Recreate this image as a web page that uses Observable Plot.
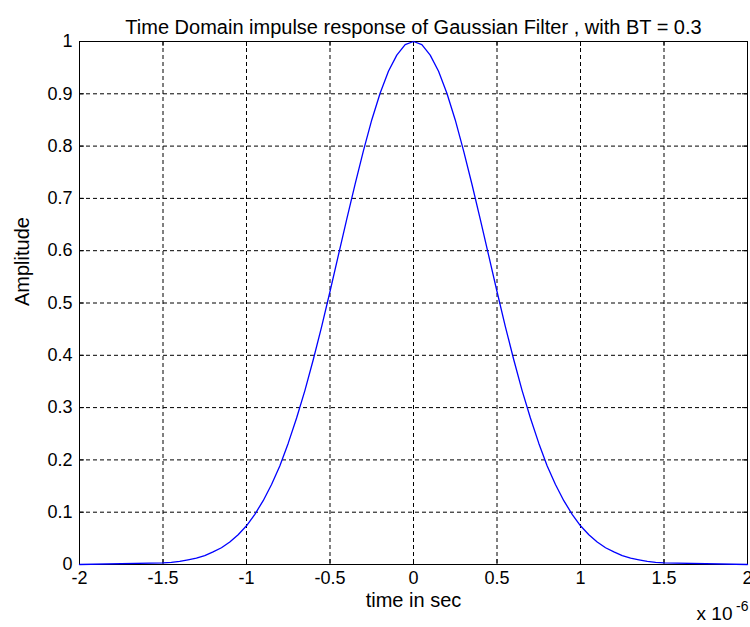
<!DOCTYPE html>
<html><head><meta charset="utf-8">
<script src="https://cdn.jsdelivr.net/npm/d3@7"></script>
<script src="https://cdn.jsdelivr.net/npm/@observablehq/plot@0.6"></script>
<style>body{margin:0;background:#fff} svg{font-family:Arial,"Liberation Sans",sans-serif}</style>
</head><body><div id="chart"></div>
<script>
const title = "Time Domain impulse response of Gaussian Filter , with BT = 0.3";
const xLabel = "time in sec";
const yLabel = "Amplitude";
const multiplierBase = "x 10";
const multiplierExp = "-6";
const xTicks = [-2, -1.5, -1, -0.5, 0, 0.5, 1, 1.5, 2];
const xTickLabels = ["-2", "-1.5", "-1", "-0.5", "0", "0.5", "1", "1.5", "2"];
const yTicks = [0, 0.1, 0.2, 0.3, 0.4, 0.5, 0.6, 0.7, 0.8, 0.9, 1];
const yTickLabels = ["0", "0.1", "0.2", "0.3", "0.4", "0.5", "0.6", "0.7", "0.8", "0.9", "1"];
// time in microseconds (x 10^-6 s)
const timeUs = [-2, -1.5, -1.45, -1.4, -1.35, -1.3, -1.25, -1.2, -1.15, -1.1, -1.05, -1, -0.95, -0.9, -0.85, -0.8, -0.75, -0.7, -0.65, -0.6, -0.55, -0.5, -0.45, -0.4, -0.35, -0.3, -0.25, -0.2, -0.15, -0.1, -0.05, 0, 0.05, 0.1, 0.15, 0.2, 0.25, 0.3, 0.35, 0.4, 0.45, 0.5, 0.55, 0.6, 0.65, 0.7, 0.75, 0.8, 0.85, 0.9, 0.95, 1, 1.05, 1.1, 1.15, 1.2, 1.25, 1.3, 1.35, 1.4, 1.45, 1.5, 2];
const amplitude = [0, 0.003, 0.004, 0.006, 0.009, 0.012, 0.017, 0.024, 0.032, 0.043, 0.057, 0.074, 0.096, 0.122, 0.153, 0.189, 0.232, 0.280, 0.333, 0.392, 0.455, 0.522, 0.591, 0.660, 0.727, 0.791, 0.850, 0.901, 0.943, 0.974, 0.994, 1, 0.994, 0.974, 0.943, 0.901, 0.850, 0.791, 0.727, 0.660, 0.591, 0.522, 0.455, 0.392, 0.333, 0.280, 0.232, 0.189, 0.153, 0.122, 0.096, 0.074, 0.057, 0.043, 0.032, 0.024, 0.017, 0.012, 0.009, 0.006, 0.004, 0.003, 0];

const W = 750, H = 627;
const mL = 79, mR = 3, mT = 41, mB = 63;
const pw = W - mL - mR, ph = H - mT - mB;
const data = timeUs.map((t, i) => ({t, a: amplitude[i]}));
const dash = {stroke: "black", strokeDasharray: "4,3", strokeWidth: 1};
const tk = {stroke: "black", strokeWidth: 1};

const chart = Plot.plot({
  width: W, height: H,
  marginLeft: mL, marginRight: mR, marginTop: mT, marginBottom: mB,
  x: {domain: [-2, 2], axis: null},
  y: {domain: [0, 1], axis: null},
  style: {fontFamily: "Arial, 'Liberation Sans', sans-serif", background: "white", color: "black"},
  marks: [
    Plot.ruleX(xTicks.slice(1, -1), {...dash}),
    Plot.ruleY(yTicks.slice(1, -1), {...dash}),
    Plot.ruleX(xTicks, {...tk, insetTop: ph - 5}),
    Plot.ruleX(xTicks, {...tk, insetBottom: ph - 5}),
    Plot.ruleY(yTicks, {...tk, insetRight: pw - 5}),
    Plot.ruleY(yTicks, {...tk, insetLeft: pw - 5}),
    Plot.frame({stroke: "black", strokeWidth: 1}),
    Plot.line(data, {x: "t", y: "a", stroke: "#0000ff", strokeWidth: 1.3}),
    Plot.text(xTicks, {x: d => d, text: (d, i) => xTickLabels[i], frameAnchor: "bottom", dy: 19, fontSize: 18, fill: "black"}),
    Plot.text(yTicks, {y: d => d, text: (d, i) => yTickLabels[i], frameAnchor: "left", textAnchor: "end", dx: -7, fontSize: 18, fill: "black"}),
    Plot.text([title], {text: d => d, frameAnchor: "top", dy: -21.5, fontSize: 20, fill: "black"}),
    Plot.text([xLabel], {text: d => d, frameAnchor: "bottom", dy: 42, fontSize: 20, fill: "black"}),
    Plot.text([yLabel], {text: d => d, frameAnchor: "left", rotate: -90, dx: -57, dy: 3, fontSize: 20, fill: "black"}),
    Plot.text([multiplierBase], {text: d => d, frameAnchor: "bottom-right", textAnchor: "end", dx: -15, dy: 55, fontSize: 19, fill: "black"}),
    Plot.text([multiplierExp], {text: d => d, frameAnchor: "bottom-right", textAnchor: "end", dx: 1, dy: 46.5, fontSize: 14, fill: "black"})
  ]
});
document.getElementById("chart").appendChild(chart);
</script>
</body></html>
